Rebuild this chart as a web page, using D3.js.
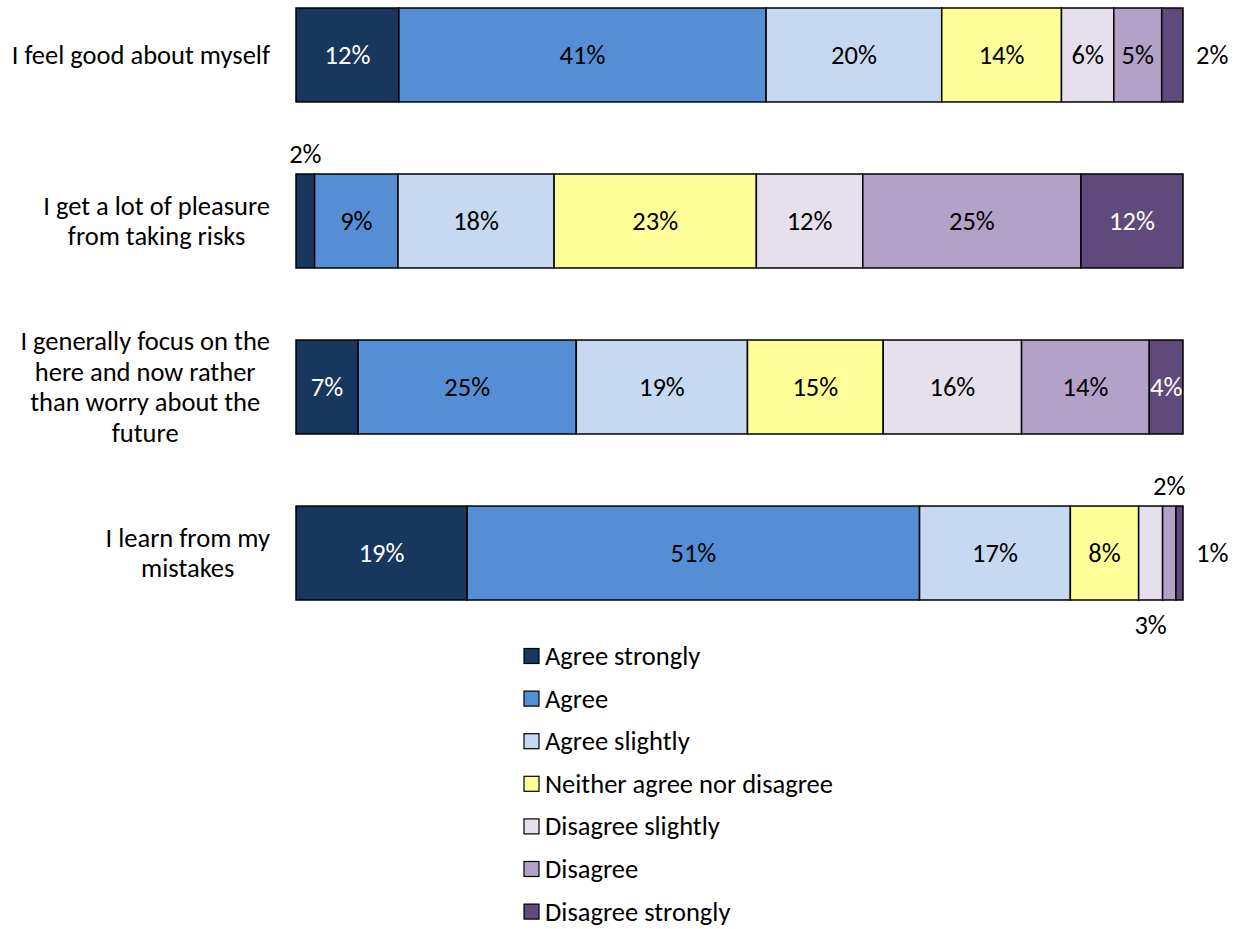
<!DOCTYPE html>
<html>
<head>
<meta charset="utf-8">
<script src="https://cdn.jsdelivr.net/npm/d3@7"></script>
<style>
  body { margin: 0; background: #fff; }
  svg text { font-family: Carlito, Calibri, Lato, 'Noto Sans', sans-serif; font-size: 26.5px; fill: #000; }
</style>
</head>
<body>
<svg id="chart" width="1237" height="929"></svg>
<script>
const categories = [
  'I feel good about myself',
  'I get a lot of pleasure from taking risks',
  'I generally focus on the here and now rather than worry about the future',
  'I learn from my mistakes',
];
// wrapped lines for the axis labels
const categoryLines = [
  ['I feel good about myself'],
  ['I get a lot of pleasure', 'from taking risks'],
  ['I generally focus on the', 'here and now rather', 'than worry about the', 'future'],
  ['I learn from my', 'mistakes'],
];
const seriesNames = [
  'Agree strongly', 'Agree', 'Agree slightly', 'Neither agree nor disagree',
  'Disagree slightly', 'Disagree', 'Disagree strongly',
];
const colors = ['#17375e', '#558ed5', '#c6d9f1', '#ffff99', '#e6e0ec', '#b3a2c7', '#604a7b'];
// percentage per category, one array per series
const agreeStrongly = [11.6, 2.1, 7.0, 19.3];
const agree = [41.4, 9.4, 24.6, 51.0];
const agreeSlightly = [19.8, 17.6, 19.3, 17.0];
const neither = [13.5, 22.8, 15.3, 7.7];
const disagreeSlightly = [5.9, 12.0, 15.6, 2.7];
const disagree = [5.4, 24.6, 14.4, 1.5];
const disagreeStrongly = [2.4, 11.5, 3.8, 0.8];
const seriesValues = [agreeStrongly, agree, agreeSlightly, neither, disagreeSlightly, disagree, disagreeStrongly];
// labels that sit outside their segment: [series index, category index, where]
const outsideLabels = [
  [6, 0, 'right'],
  [0, 1, 'top'],
  [4, 3, 'bottom'],
  [5, 3, 'top'],
  [6, 3, 'right'],
];

const svg = d3.select('#chart');
const margin = { top: 8, left: 296, right: 54 };
const width = 1237;

const x = d3.scaleLinear().domain([0, 100]).range([margin.left, width - margin.right]);
const y = d3.scaleBand().domain(categories).range([margin.top, 600]).paddingInner(0.434).paddingOuter(0);

const rows = categories.map((c, ci) => {
  const r = { category: c };
  seriesNames.forEach((s, si) => { r[s] = seriesValues[si][ci]; });
  return r;
});
const stacked = d3.stack().keys(seriesNames)(rows);

const layers = svg.append('g').selectAll('g')
  .data(stacked)
  .join('g')
  .attr('fill', (d, i) => colors[i]);

layers.selectAll('rect')
  .data(d => d)
  .join('rect')
  .attr('x', d => x(d[0]))
  .attr('y', d => y(d.data.category))
  .attr('width', d => x(d[1]) - x(d[0]))
  .attr('height', y.bandwidth())
  .attr('stroke', '#000')
  .attr('stroke-width', 1.5);

const outside = new Map(outsideLabels.map(o => [o[0] + '-' + o[1], o[2]]));
const labels = svg.append('g');
stacked.forEach((layer, si) => {
  layer.forEach((d, ci) => {
    const where = outside.get(si + '-' + ci);
    const top = y(d.data.category);
    const cx = (x(d[0]) + x(d[1])) / 2;
    const cy = top + y.bandwidth() / 2;
    const t = labels.append('text')
      .attr('dominant-baseline', 'central')
      .text(Math.round(d[1] - d[0]) + '%');
    if (where === 'right') {
      t.attr('x', x(d[1]) + 13).attr('y', cy).attr('text-anchor', 'start');
    } else if (where === 'top') {
      t.attr('x', cx).attr('y', top - 20).attr('text-anchor', 'middle');
    } else if (where === 'bottom') {
      t.attr('x', cx).attr('y', top + y.bandwidth() + 25).attr('text-anchor', 'middle');
    } else {
      t.attr('x', cx).attr('y', cy).attr('text-anchor', 'middle')
        .style('fill', si === 0 || si === 6 ? '#fff' : '#000');
    }
  });
});

// category labels: block right-aligned at 270, lines centred within the block
const lineH = 30.5;
categories.forEach((c, ci) => {
  const lines = categoryLines[ci];
  const g = svg.append('g');
  const texts = lines.map((ln, li) => g.append('text')
    .attr('dominant-baseline', 'central')
    .attr('text-anchor', 'middle')
    .attr('y', y(c) + y.bandwidth() / 2 + (li - (lines.length - 1) / 2) * lineH)
    .text(ln));
  const maxW = d3.max(texts, t => t.node().getComputedTextLength());
  texts.forEach(t => t.attr('x', 270 - maxW / 2));
});

// legend
const legend = svg.append('g').attr('transform', 'translate(524,0)');
seriesNames.forEach((s, i) => {
  const ly = 656 + i * 42.6;
  legend.append('rect')
    .attr('x', 0).attr('y', ly - 7.5)
    .attr('width', 15).attr('height', 15)
    .attr('fill', colors[i]).attr('stroke', '#000').attr('stroke-width', 1.2);
  legend.append('text')
    .attr('x', 21).attr('y', ly)
    .attr('dominant-baseline', 'central')
    .text(s);
});
</script>
</body>
</html>
